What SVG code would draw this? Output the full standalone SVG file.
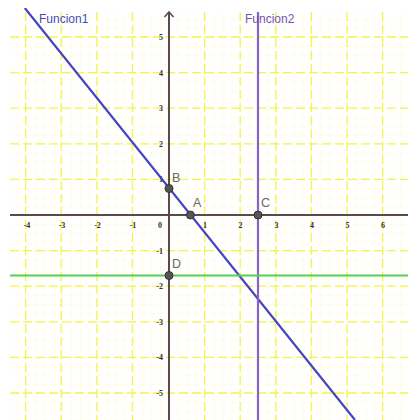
<svg xmlns="http://www.w3.org/2000/svg" width="408" height="420" viewBox="0 0 408 420">
<defs>
<clipPath id="plot"><rect x="10" y="8" width="398" height="412"/></clipPath>
<pattern id="minor" x="169" y="215" width="8.9" height="8.9" patternUnits="userSpaceOnUse">
<path d="M0 0H8.9M0 0V8.9" stroke="#fcfcc8" stroke-width="1" stroke-dasharray="4 2" fill="none"/>
</pattern>
</defs>
<style>
.major{stroke:#f4f450;stroke-width:1.3;stroke-dasharray:9 4;fill:none}
.tick{font-family:"Liberation Serif",serif;font-size:8px;font-weight:bold;fill:#333}
.pt{fill:#555;stroke:#333;stroke-width:1}
.plabel{font-family:"Liberation Sans",Arial,sans-serif;font-size:12.5px;fill:#666}
</style>
<rect width="408" height="420" fill="#fff"/>
<g id="grid" clip-path="url(#plot)">
<rect x="10" y="12" width="398" height="408" fill="url(#minor)"/>
<g class="major">
<path d="M25.6 12V420M61.2 12V420M96.8 12V420M132.4 12V420M204.6 12V420M240.2 12V420M275.8 12V420M311.4 12V420M347 12V420M382.6 12V420"/>
<path d="M10 37H408M10 72.6H408M10 108.2H408M10 143.8H408M10 179.4H408M10 250.6H408M10 286.2H408M10 321.8H408M10 357.4H408M10 393H408"/>
</g>
</g>
<g id="axes">
<path d="M10 215H408" stroke="#5b4a4a" stroke-width="2"/>
<path d="M169 420V12" stroke="#5b4a4a" stroke-width="2"/>
<path d="M164.5 17L169 12L173.5 17" stroke="#5b4a4a" stroke-width="1.6" fill="none"/>
</g>
<g id="ticks" class="tick">
<g text-anchor="middle">
<text x="27" y="228">-4</text><text x="62" y="228">-3</text><text x="97.5" y="228">-2</text><text x="133" y="228">-1</text>
<text x="160" y="228">0</text><text x="205" y="228">1</text><text x="240.5" y="228">2</text><text x="276.5" y="228">3</text>
<text x="312" y="228">4</text><text x="347.5" y="228">5</text><text x="383" y="228">6</text>
</g>
<g text-anchor="end">
<text x="163" y="40">5</text><text x="163" y="75.6">4</text><text x="163" y="111.2">3</text><text x="163" y="146.8">2</text><text x="163" y="182.4">1</text>
<text x="163" y="253.6">-1</text><text x="163" y="289.2">-2</text><text x="163" y="324.8">-3</text><text x="163" y="360.4">-4</text><text x="163" y="396">-5</text>
</g>
</g>
<g id="connectors" clip-path="url(#plot)">
<line id="funcion1" x1="24.8" y1="8" x2="355" y2="420" stroke="#4444c4" stroke-width="2.2"/>
<line id="funcion2" x1="258" y1="12" x2="258" y2="420" stroke="#8564c4" stroke-width="2.2"/>
<line id="recta-d" x1="10" y1="275.5" x2="408" y2="275.5" stroke="#55d055" stroke-width="2.2"/>
</g>
<g id="label-funcion1"><text x="39" y="23" font-family="Liberation Sans,Arial,sans-serif" font-size="12" fill="#4a4ac0">Funcion1</text></g>
<g id="label-funcion2"><text x="245" y="23" font-family="Liberation Sans,Arial,sans-serif" font-size="12" fill="#7452b4">Funcion2</text></g>
<g id="B"><circle class="pt" cx="169" cy="188.5" r="4"/><text class="plabel" x="172" y="182">B</text></g>
<g id="A"><circle class="pt" cx="190.4" cy="215" r="4"/><text class="plabel" x="193" y="207">A</text></g>
<g id="C"><circle class="pt" cx="258" cy="215" r="4"/><text class="plabel" x="261" y="207">C</text></g>
<g id="D"><circle class="pt" cx="169" cy="275.5" r="4"/><text class="plabel" x="172" y="268">D</text></g>
</svg>
